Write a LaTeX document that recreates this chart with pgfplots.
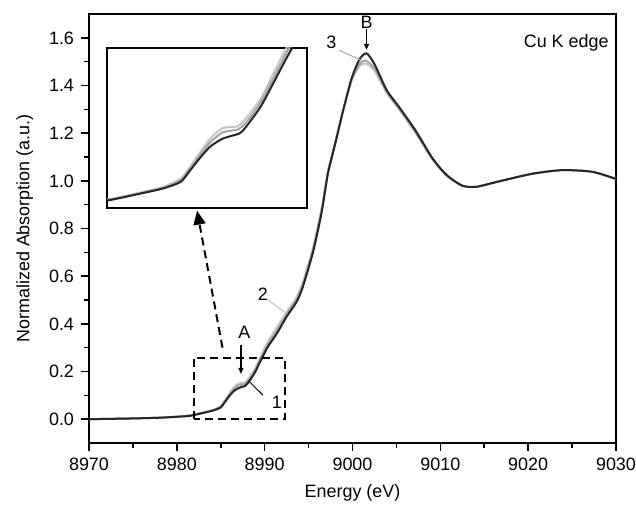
\documentclass[border=0pt]{standalone}
\usepackage{fontspec}
\setmainfont{Liberation Sans}
\usepackage{pgfplots}
\pgfplotsset{compat=1.18}
\usepackage{pgfplotstable}
\usetikzlibrary{arrows.meta}

% sample 1 (black)
\pgfplotstableread{
x y
8970.0 0.000
8975.0 0.003
8978.0 0.006
8980.0 0.010
8981.5 0.014
8983.2 0.028
8984.2 0.037
8985.0 0.049
8985.4 0.068
8985.9 0.093
8986.4 0.115
8987.0 0.130
8987.8 0.140
8988.1 0.152
8988.8 0.190
8989.4 0.234
8990.3 0.300
8991.4 0.360
8992.5 0.430
8993.6 0.490
8994.3 0.550
8995.5 0.700
8996.5 0.870
8997.2 1.030
8998.0 1.150
8998.9 1.290
8999.9 1.430
9000.8 1.510
9001.6 1.535
9002.5 1.490
9003.9 1.380
9005.3 1.310
9007.2 1.210
9009.1 1.095
9010.7 1.025
9012.5 0.980
9014.1 0.975
9016.7 0.998
9020.5 1.030
9023.9 1.045
9027.3 1.038
9030.0 1.008
}\sampleone

% sample 2 (light grey)
\pgfplotstableread{
x y
8970.0 0.000
8975.0 0.003
8978.0 0.007
8980.0 0.011
8981.5 0.016
8983.2 0.030
8984.2 0.040
8985.0 0.055
8985.4 0.075
8985.9 0.103
8986.4 0.130
8987.0 0.150
8987.7 0.153
8988.1 0.168
8988.8 0.205
8989.4 0.252
8990.3 0.320
8991.4 0.385
8992.5 0.450
8993.6 0.510
8994.3 0.570
8995.5 0.720
8996.5 0.890
8997.2 1.040
8998.0 1.160
8998.9 1.290
8999.9 1.420
9000.8 1.480
9001.5 1.492
9002.5 1.462
9003.9 1.370
9005.3 1.300
9007.2 1.200
9009.1 1.090
9010.7 1.022
9012.5 0.978
9014.1 0.975
9016.7 0.998
9020.5 1.030
9023.9 1.045
9027.3 1.038
9030.0 1.008
}\sampletwo

% sample 3 (mid grey)
\pgfplotstableread{
x y
8970.0 0.000
8975.0 0.003
8978.0 0.006
8980.0 0.010
8981.5 0.015
8983.2 0.029
8984.2 0.038
8985.0 0.052
8985.4 0.071
8985.9 0.098
8986.4 0.123
8987.0 0.142
8987.7 0.147
8988.1 0.160
8988.8 0.198
8989.4 0.243
8990.3 0.310
8991.4 0.372
8992.5 0.440
8993.6 0.500
8994.3 0.560
8995.5 0.710
8996.5 0.880
8997.2 1.035
8998.0 1.155
8998.9 1.290
8999.9 1.425
9000.8 1.490
9001.5 1.505
9002.5 1.472
9003.9 1.372
9005.3 1.302
9007.2 1.202
9009.1 1.092
9010.7 1.023
9012.5 0.979
9014.1 0.975
9016.7 0.998
9020.5 1.030
9023.9 1.045
9027.3 1.038
9030.0 1.008
}\samplethree

\begin{document}
\begin{tikzpicture}[font=\fontsize{9}{11}\selectfont]
\begin{axis}[
    name=main,
    scale only axis,
    width=263.5bp, height=214.5bp,
    xmin=8970, xmax=9030,
    ymin=-0.1, ymax=1.7,
    xtick={8970,8980,...,9030},
    ytick={0,0.2,...,1.6},
    minor x tick num=1,
    minor y tick num=1,
    tick pos=left,
    tick align=outside,
    major tick length=4bp,
    minor tick length=2.5bp,
    axis line style={line width=0.8bp},
    every tick/.style={line width=0.8bp, black},
    /pgf/number format/assume math mode=true,
    xticklabel style={/pgf/number format/set thousands separator={}},
    yticklabel style={/pgf/number format/fixed, /pgf/number format/fixed zerofill, /pgf/number format/precision=1},
    xlabel={Energy (eV)},
    ylabel={Normalized Absorption (a.u.)},
    xlabel style={at={(axis description cs:0.5,-0.117)}, anchor=center},
    ylabel style={at={(axis description cs:-0.122,0.5)}, anchor=center},
    every axis plot/.append style={smooth, tension=0.4, line width=1bp},
    clip=false,
]
\addplot[gray!45] table {\sampletwo};
\addplot[gray!70] table {\samplethree};
\addplot[black!85] table {\sampleone};

% zoom box and arrow to the inset
\draw[line width=1bp, dash pattern=on 4bp off 2.5bp] (axis cs:8981.9,0) rectangle (axis cs:8992.3,0.258);
\draw[line width=1bp, dash pattern=on 4bp off 2.5bp, -{Triangle[length=7bp,width=6bp]}] (axis cs:8985.2,0.30) -- (axis cs:8982.3,0.875);

% annotations
\node at (axis cs:8987.7,0.364) {A};
\draw[line width=0.6bp, -{Triangle[length=3bp,width=2.5bp]}] (axis cs:8987.3,0.31) -- (axis cs:8987.3,0.19);
\node at (axis cs:9001.6,1.666) {B};
\draw[line width=0.6bp, -{Triangle[length=3bp,width=2.5bp]}] (axis cs:9001.6,1.635) -- (axis cs:9001.6,1.55);
\node at (axis cs:8997.6,1.58) {3};
\draw[gray!70, line width=0.5bp] (axis cs:8998.5,1.548) -- (axis cs:9001.0,1.505);
\node at (axis cs:8989.8,0.524) {2};
\draw[gray!50, line width=0.5bp] (axis cs:8990.3,0.503) -- (axis cs:8992.3,0.448);
\node at (axis cs:8991.4,0.072) {1};
\draw[black, line width=0.5bp] (axis cs:8989.8,0.101) -- (axis cs:8988.3,0.156);
\node[anchor=east, inner sep=0pt] at (axis cs:9029.2,1.58) {Cu K edge};
\end{axis}

% inset
\begin{axis}[
    at={(9bp,117.5bp)}, anchor=south west,
    scale only axis,
    width=100bp, height=80bp,
    xmin=8981.5, xmax=8991,
    ymin=0, ymax=0.30,
    ticks=none,
    axis line style={line width=0.8bp},
    axis background/.style={fill=white},
    every axis plot/.append style={smooth, tension=0.4, line width=1bp},
]
\addplot[gray!45] table {\sampletwo};
\addplot[gray!70] table {\samplethree};
\addplot[black!85] table {\sampleone};
\end{axis}

\pgfresetboundingbox
\path ([xshift=-44.5bp,yshift=-31bp]main.south west) rectangle ([xshift=10bp,yshift=7bp]main.north east);
\end{tikzpicture}
\end{document}
